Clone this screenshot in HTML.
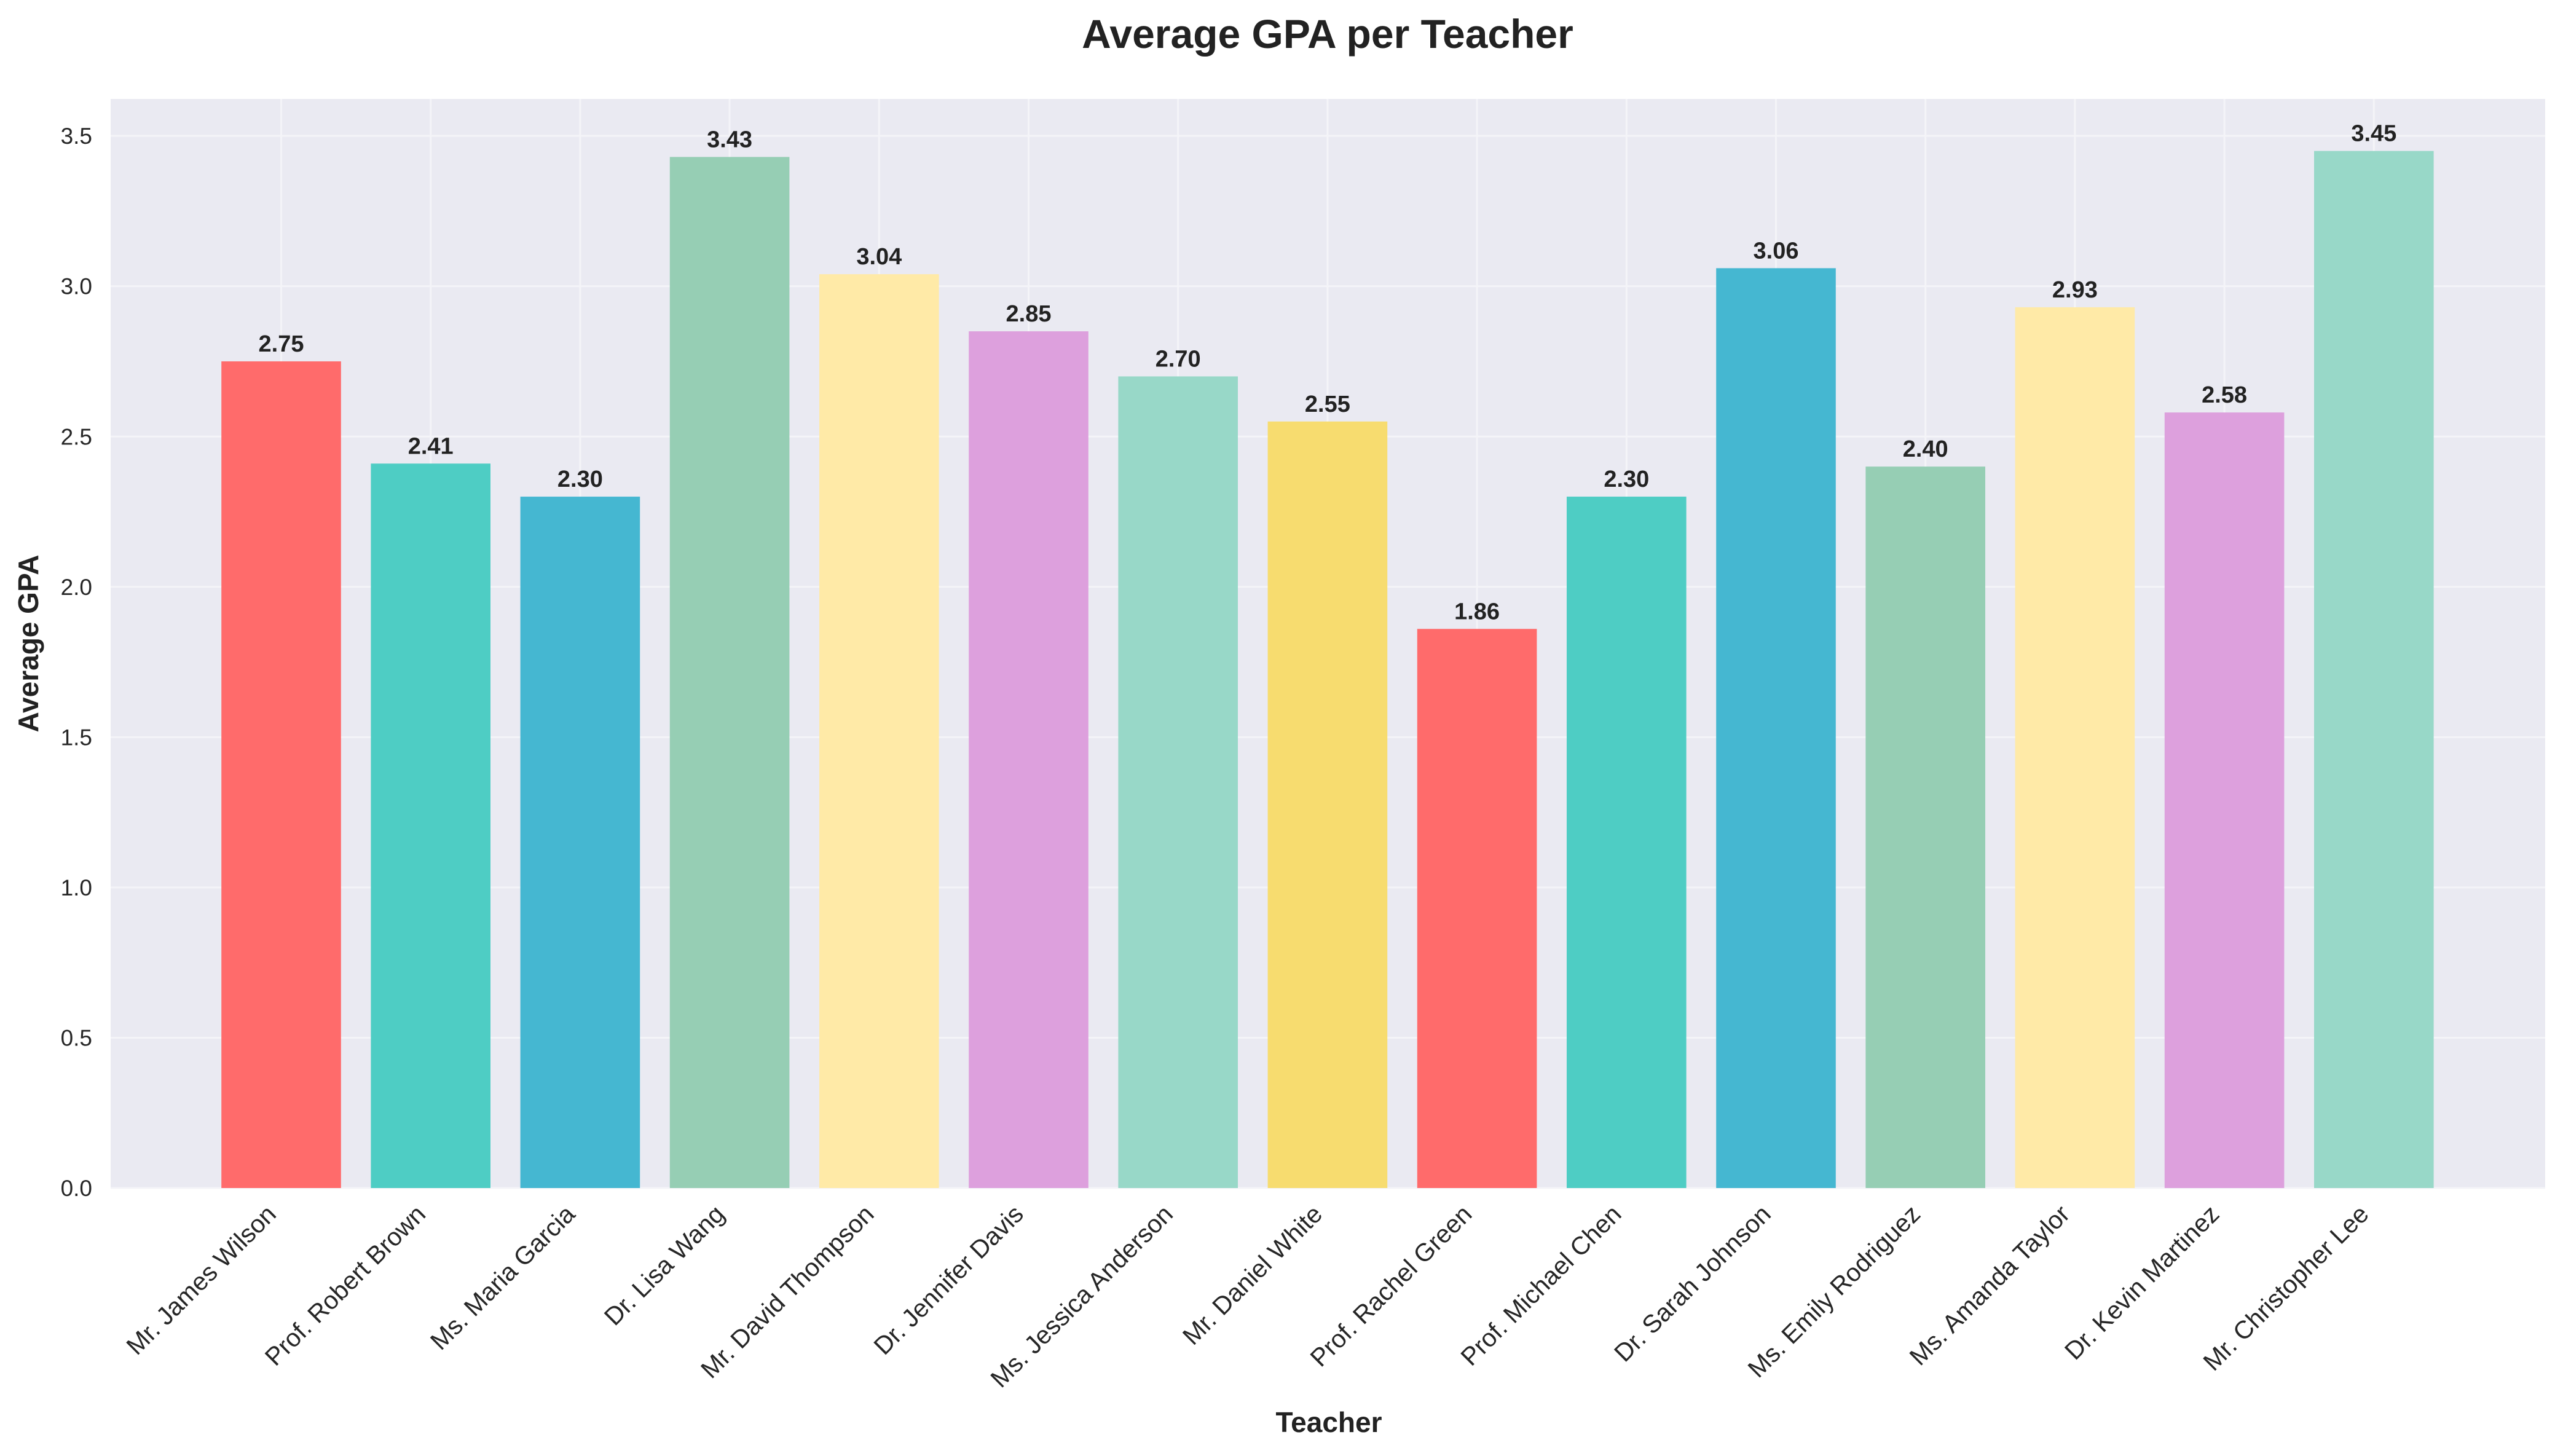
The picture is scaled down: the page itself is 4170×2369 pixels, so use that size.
<!DOCTYPE html>
<html><head><meta charset="utf-8"><style>
html,body{margin:0;padding:0;background:#fff;}
svg{display:block;font-family:"Liberation Sans",sans-serif;}
</style></head><body>
<svg id="chart" width="4170" height="2369" viewBox="0 0 4170 2369" xmlns="http://www.w3.org/2000/svg">
<rect x="0" y="0" width="4170" height="2369" fill="#ffffff"/>
<rect x="180" y="161" width="3961" height="1772" fill="#EAEAF2"/>
<g id="grid"></g>
<g id="bars"></g>
<g id="yticks"></g>
<g id="xticks"></g>
<text x="2160" y="78" text-anchor="middle" font-size="66" font-weight="bold" fill="#222">Average GPA per Teacher</text>
<text x="2162" y="2330" text-anchor="middle" font-size="46" font-weight="bold" fill="#222">Teacher</text>
<text transform="translate(62,1047) rotate(-90)" text-anchor="middle" font-size="46" font-weight="bold" fill="#222">Average GPA</text>
</svg>
<script>
const categories = ["Mr. James Wilson","Prof. Robert Brown","Ms. Maria Garcia","Dr. Lisa Wang","Mr. David Thompson","Dr. Jennifer Davis","Ms. Jessica Anderson","Mr. Daniel White","Prof. Rachel Green","Prof. Michael Chen","Dr. Sarah Johnson","Ms. Emily Rodriguez","Ms. Amanda Taylor","Dr. Kevin Martinez","Mr. Christopher Lee"];
const gpaValues = [2.75,2.41,2.30,3.43,3.04,2.85,2.70,2.55,1.86,2.30,3.06,2.40,2.93,2.58,3.45];
const valueLabels = ["2.75","2.41","2.30","3.43","3.04","2.85","2.70","2.55","1.86","2.30","3.06","2.40","2.93","2.58","3.45"];
const yTickValues = [0,0.5,1.0,1.5,2.0,2.5,3.0,3.5];
const yTickLabels = ["0.0","0.5","1.0","1.5","2.0","2.5","3.0","3.5"];
const palette = ["#FF6B6B","#4ECDC4","#45B7D1","#96CEB4","#FFEAA7","#DDA0DD","#98D8C8","#F7DC6F"];

const NS = "http://www.w3.org/2000/svg";
const plotL = 180, plotR = 4141, y0px = 1933, pxPerUnit = 489.1;
const step = 243.2, firstCenter = 457.5, barW = 194.6;
function xScale(i){ return firstCenter + step * i; }
function yScale(v){ return y0px - v * pxPerUnit; }
function mk(tag, attrs){ const e = document.createElementNS(NS, tag); for (const k in attrs) e.setAttribute(k, attrs[k]); return e; }

const grid = document.getElementById('grid');
const bars = document.getElementById('bars');
const yt = document.getElementById('yticks');
const xt = document.getElementById('xticks');

yTickValues.forEach((v, i) => {
  const y = yScale(v);
  const ln = mk('line', {x1: plotL, x2: plotR, y1: y, y2: y, stroke: '#F4F4F8', 'stroke-width': 3});
  
  
  grid.appendChild(ln);
  const t = mk('text', {x: 150, y: y + 13, 'text-anchor': 'end', 'font-size': 37, fill: '#262626'});
  t.textContent = yTickLabels[i];
  
  
  yt.appendChild(t);
});

categories.forEach((c, i) => {
  const cx = xScale(i);
  const g = mk('line', {x1: cx, x2: cx, y1: 161, y2: y0px, stroke: '#F4F4F8', 'stroke-width': 3});
  
  
  grid.appendChild(g);

  const v = gpaValues[i];
  const r = mk('rect', {x: cx - barW / 2, y: yScale(v), width: barW, height: y0px - yScale(v), fill: palette[i % palette.length]});
  
  
  bars.appendChild(r);

  const lbl = mk('text', {x: cx, y: yScale(v) - 16, 'text-anchor': 'middle', 'font-size': 38, 'font-weight': 'bold', fill: '#222'});
  lbl.textContent = valueLabels[i];
  
  
  bars.appendChild(lbl);

  const tx = cx - 6, ty = 1978;
  const t = mk('text', {x: tx, y: ty, 'text-anchor': 'end', 'font-size': 41, fill: '#262626', transform: 'rotate(-45 ' + tx + ' ' + ty + ')'});
  t.textContent = c;
  
  
  xt.appendChild(t);
});
</script>
</body></html>
